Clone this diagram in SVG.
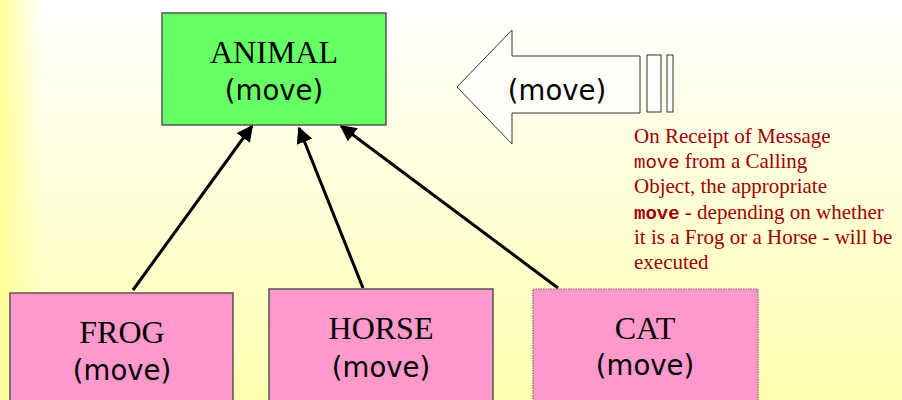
<svg xmlns="http://www.w3.org/2000/svg" width="902" height="400" viewBox="0 0 902 400">
  <defs>
    <linearGradient id="bgV" x1="0" y1="0" x2="0" y2="1">
      <stop offset="0" stop-color="#ffffff"/>
      <stop offset="1" stop-color="#ffffb0"/>
    </linearGradient>
    <linearGradient id="bgL" x1="0" y1="0" x2="1" y2="0">
      <stop offset="0" stop-color="#ffff99" stop-opacity="1"/>
      <stop offset="1" stop-color="#ffff99" stop-opacity="0"/>
    </linearGradient>
    <marker id="head" viewBox="0 0 10 10" refX="9" refY="5" markerWidth="5.5" markerHeight="5.5" orient="auto" markerUnits="strokeWidth">
      <path d="M0,0 L10,5 L0,10 Z" fill="#000"/>
    </marker>
    <style>
      .box { stroke: #555; stroke-width: 1.5; }
      .super { fill: #66ff66; }
      .sub { fill: #ff99cc; }
      .title { font-family: "Liberation Serif", serif; font-size: 32px; fill: #000; text-anchor: middle; }
      .msg { font-family: "DejaVu Sans", "Open Sans", sans-serif; font-size: 27.5px; fill: #000; text-anchor: middle; }
      .link { stroke: #000; stroke-width: 3; fill: none; marker-end: url(#head); }
      .note { font-family: "Liberation Serif", serif; font-size: 21px; fill: #a00000; }
      .code { font-family: "Liberation Mono", monospace; font-size: 19px; }
    </style>
  </defs>

  <!-- background -->
  <rect x="0" y="0" width="902" height="400" fill="url(#bgV)"/>
  <rect x="0" y="0" width="42" height="400" fill="url(#bgL)"/>

  <!-- inheritance connectors -->
  <g id="connectors">
    <line class="link" x1="133" y1="290" x2="252" y2="126"/>
    <line class="link" x1="363" y1="288" x2="299" y2="128"/>
    <line class="link" x1="558" y1="288" x2="341" y2="126"/>
  </g>

  <g id="animal">
    <rect class="box super" x="162" y="13" width="224" height="112"/>
    <text class="title" x="274" y="63">ANIMAL</text>
    <text class="msg" x="274" y="100">(move)</text>
  </g>

  <g id="frog">
    <rect class="box sub" x="10" y="293" width="223" height="120"/>
    <text class="title" x="122" y="343">FROG</text>
    <text class="msg" x="122" y="380">(move)</text>
  </g>

  <g id="horse">
    <rect class="box sub" x="269" y="289" width="224" height="120"/>
    <text class="title" x="381" y="339">HORSE</text>
    <text class="msg" x="381" y="377">(move)</text>
  </g>

  <g id="cat">
    <rect class="sub" x="533" y="289" width="225" height="120" stroke="#806070" stroke-width="1.2" stroke-dasharray="1.5 1"/>
    <text class="title" x="645" y="339">CAT</text>
    <text class="msg" x="645" y="375">(move)</text>
  </g>

  <!-- incoming message arrow -->
  <g id="message">
    <path d="M457,87 L512,30 L512,56 L640,56 L640,113 L512,113 L512,144 Z" fill="#fffffa" stroke="#333" stroke-width="1"/>
    <rect x="647" y="55" width="14" height="57" fill="#fffffa" stroke="#333" stroke-width="1"/>
    <rect x="667" y="55" width="6" height="57" fill="#fffffa" stroke="#333" stroke-width="1"/>
    <text class="msg" x="557" y="100">(move)</text>
  </g>

  <g id="note">
    <text class="note" x="634" y="143">On Receipt of Message</text>
    <text class="note" x="634" y="168"><tspan class="code">move</tspan> from a Calling</text>
    <text class="note" x="634" y="193">Object, the appropriate</text>
    <text class="note" x="634" y="219"><tspan class="code" font-weight="bold">move</tspan> - depending on whether</text>
    <text class="note" x="634" y="244">it is a Frog or a Horse - will be</text>
    <text class="note" x="634" y="269">executed</text>
  </g>
</svg>
